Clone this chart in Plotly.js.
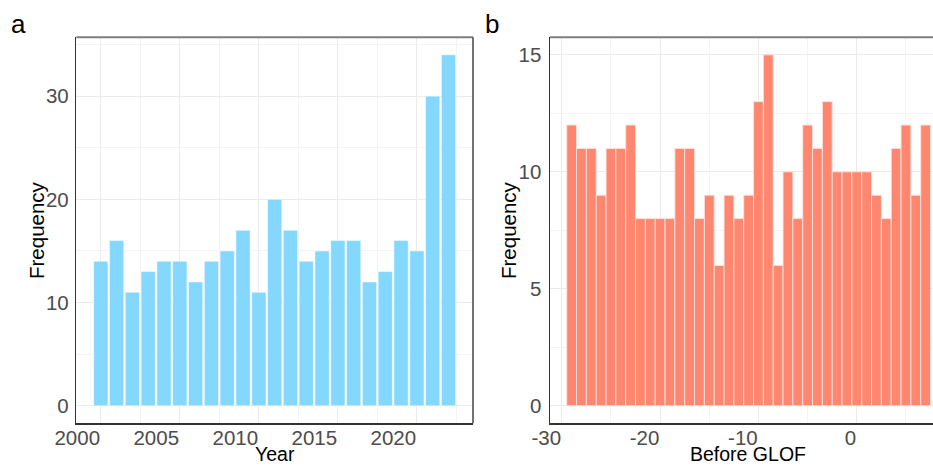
<!DOCTYPE html>
<html>
<head>
<meta charset="utf-8">
<script src="https://cdn.plot.ly/plotly-3.0.1.min.js"></script>
<style>html,body{margin:0;padding:0;background:#fff;}#chart{width:933px;height:466px;}</style>
</head>
<body>
<div id="chart"></div>
<script>
// Panel a: GLOF frequency per year
const years = [2000,2001,2002,2003,2004,2005,2006,2007,2008,2009,2010,2011,2012,2013,2014,2015,2016,2017,2018,2019,2020,2021,2022];
const yearFreq = [14,16,11,13,14,14,12,14,15,17,11,20,17,14,15,16,16,12,13,16,15,30,34];
// Panel b: frequency by time before GLOF
const beforeGlof = [-29,-28,-27,-26,-25,-24,-23,-22,-21,-20,-19,-18,-17,-16,-15,-14,-13,-12,-11,-10,-9,-8,-7,-6,-5,-4,-3,-2,-1,0,1,2,3,4,5,6,7];
const beforeFreq = [12,11,11,9,11,11,12,8,8,8,8,11,11,8,9,6,9,8,9,13,15,6,10,8,12,11,13,10,10,10,10,9,8,11,12,9,12];
const xTicksA = [2000,2005,2010,2015,2020];
const yTicksA = [0,10,20,30];
const xTicksB = [-30,-20,-10,0];
const xTickLabelsB = ["-30","-20","-10","0"];
const yTicksB = [0,5,10,15];

const FONT = "Liberation Sans, Arial, sans-serif";
const tickFont = {family: FONT, size: 20.5, color: "#4D4D4D"};
const titleFont = {family: FONT, size: 19.5, color: "#000"};
const grid = "#EBEBEB";
const minorGrid = "#F4F4F4";

const traces = [
  {type: "bar", x: years, y: yearFreq, xaxis: "x", yaxis: "y", width: 0.9,
   marker: {color: "#84D8FE", line: {color: "#ffffff", width: 0.5}}, hoverinfo: "x+y"},
  {type: "bar", x: beforeGlof, y: beforeFreq, xaxis: "x2", yaxis: "y2", width: 1,
   marker: {color: "#FF8770", line: {color: "#FFE2DC", width: 0.9}}, hoverinfo: "x+y"}
];

const ydom = [1 - 423.3/466, 1 - 37.3/466];
const xdomA = [76.3/933, 473/933];
const xdomB = [550/933, 1];
const px = v => v/933;
const py = v => 1 - v/466;

const layout = {
  width: 933, height: 466,
  margin: {l: 0, r: 0, t: 0, b: 0},
  paper_bgcolor: "#fff", plot_bgcolor: "#fff",
  showlegend: false,
  bargap: 0,
  font: {family: FONT},
  xaxis: {
    domain: xdomA, anchor: "y", range: [1998.45, 2023.55],
    tickvals: xTicksA, ticks: "", ticklabelposition: "outside left", ticklabelstandoff: -4,
    tickfont: tickFont, showgrid: true, gridcolor: grid, gridwidth: 1, zeroline: false,
    minor: {dtick: 2.5, tick0: 2000, showgrid: true, gridcolor: minorGrid, gridwidth: 1},
    showline: true, linecolor: "#333", linewidth: 1.5
  },
  yaxis: {
    domain: ydom, anchor: "x", range: [-1.7, 35.7],
    tickvals: yTicksA, ticks: "", tickfont: tickFont, ticklabelstandoff: 2,
    showgrid: true, gridcolor: grid, gridwidth: 1, zeroline: false,
    minor: {dtick: 5, tick0: 0, showgrid: true, gridcolor: minorGrid, gridwidth: 1},
    showline: true, linecolor: "#333", linewidth: 1.5
  },
  xaxis2: {
    domain: xdomB, anchor: "y2", range: [-31.2, 7.75],
    tickvals: xTicksB, ticktext: xTickLabelsB, ticks: "", ticklabelposition: "outside left", ticklabelstandoff: -4,
    tickfont: tickFont, showgrid: true, gridcolor: grid, gridwidth: 1, zeroline: false,
    minor: {dtick: 5, tick0: 0, showgrid: true, gridcolor: minorGrid, gridwidth: 1},
    showline: true, linecolor: "#333", linewidth: 1.5
  },
  yaxis2: {
    domain: ydom, anchor: "x2", range: [-0.75, 15.75],
    tickvals: yTicksB, ticks: "", tickfont: tickFont, ticklabelstandoff: 3,
    showgrid: true, gridcolor: grid, gridwidth: 1, zeroline: false,
    minor: {dtick: 2.5, tick0: 0, showgrid: true, gridcolor: minorGrid, gridwidth: 1},
    showline: true, linecolor: "#333", linewidth: 1.5
  },
  shapes: [
    {type: "line", xref: "paper", yref: "paper", x0: xdomA[0], x1: xdomA[1], y0: ydom[1], y1: ydom[1], line: {color: "#7F7F7F", width: 2}},
    {type: "line", xref: "paper", yref: "paper", x0: xdomA[1], x1: xdomA[1], y0: ydom[0], y1: ydom[1], line: {color: "#444", width: 1.5}},
    {type: "line", xref: "paper", yref: "paper", x0: xdomB[0], x1: xdomB[1], y0: ydom[1], y1: ydom[1], line: {color: "#7F7F7F", width: 2}}
  ],
  annotations: [
    {text: "a", xref: "paper", yref: "paper", x: px(18), y: py(24), xanchor: "center", yanchor: "middle", showarrow: false, font: {family: FONT, size: 26, color: "#000"}},
    {text: "b", xref: "paper", yref: "paper", x: px(492), y: py(24), xanchor: "center", yanchor: "middle", showarrow: false, font: {family: FONT, size: 26, color: "#000"}},
    {text: "Year", xref: "paper", yref: "paper", x: px(275), y: 0, xanchor: "center", yanchor: "bottom", showarrow: false, borderpad: 0, font: titleFont},
    {text: "Before GLOF", xref: "paper", yref: "paper", x: px(748), y: 0, xanchor: "center", yanchor: "bottom", showarrow: false, borderpad: 0, font: titleFont},
    {text: "Frequency", xref: "paper", yref: "paper", x: px(36), y: py(230), textangle: -90, xanchor: "center", yanchor: "middle", showarrow: false, font: {family: FONT, size: 20.5, color: "#000"}},
    {text: "Frequency", xref: "paper", yref: "paper", x: px(508), y: py(230), textangle: -90, xanchor: "center", yanchor: "middle", showarrow: false, font: {family: FONT, size: 20.5, color: "#000"}}
  ]
};

Plotly.newPlot("chart", traces, layout, {displayModeBar: false, staticPlot: true});
</script>
</body>
</html>
